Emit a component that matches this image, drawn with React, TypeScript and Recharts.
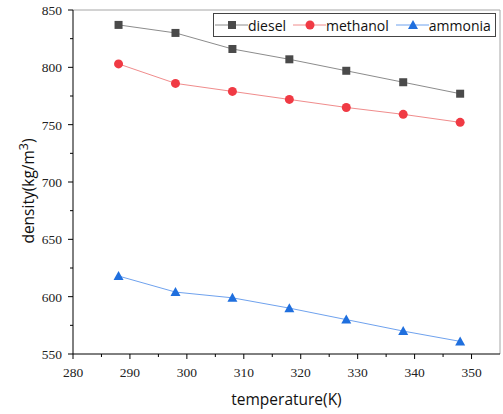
import React from 'react'
import { LineChart, Line, XAxis, YAxis, ReferenceLine } from 'recharts'

// temperature (K) and density (kg/m3)
const temperatures = [288, 298, 308, 318, 328, 338, 348]
const diesel = [837, 830, 816, 807, 797, 787, 777]
const methanol = [803, 786, 779, 772, 765, 759, 752]
const ammonia = [618, 604, 599, 590, 580, 570, 561]

const xTicks = [280, 285, 290, 295, 300, 305, 310, 315, 320, 325, 330, 335, 340, 345, 350]
const yTicks = [550, 575, 600, 625, 650, 675, 700, 725, 750, 775, 800, 825, 850]

const data = temperatures.map((t, i) => ({
  t,
  diesel: diesel[i],
  methanol: methanol[i],
  ammonia: ammonia[i],
}))

const series = [
  { key: 'diesel', name: 'diesel', line: '#8c8c8c', mark: '#4a4a4a', shape: 'square' },
  { key: 'methanol', name: 'methanol', line: '#f08c8c', mark: '#f03a44', shape: 'circle' },
  { key: 'ammonia', name: 'ammonia', line: '#6fa2ee', mark: '#1f6fde', shape: 'triangle' },
]

const tickFont = { fontFamily: '"Liberation Serif", serif', fontSize: 13.5, fill: '#222' }
const labelFont = '"Open Sans", sans-serif'

function Marker({ cx, cy, shape, color }: any) {
  if (cx == null || cy == null) return null
  if (shape === 'square') return <rect x={cx - 4} y={cy - 4} width={8} height={8} fill={color} />
  if (shape === 'circle') return <circle cx={cx} cy={cy} r={4.5} fill={color} />
  return <polygon points={`${cx},${cy - 5} ${cx + 5},${cy + 4} ${cx - 5},${cy + 4}`} fill={color} />
}

const XTick = ({ x, y, payload }: any) => {
  const major = payload.value % 10 === 0
  return (
    <g>
      <line x1={x} x2={x} y1={y} y2={y + (major ? 5 : 3)} stroke="#000" />
      {major && (
        <text x={x} y={y + 23} textAnchor="middle" {...tickFont}>
          {payload.value}
        </text>
      )}
    </g>
  )
}

const YTick = ({ x, y, payload }: any) => {
  const major = payload.value % 50 === 0
  return (
    <g>
      <line x1={x} x2={x - (major ? 5 : 3)} y1={y} y2={y} stroke="#000" />
      {major && (
        <text x={x - 11} y={y + 5} textAnchor="end" {...tickFont}>
          {payload.value}
        </text>
      )}
    </g>
  )
}

const YLabel = ({ viewBox }: any) => {
  const cx = viewBox.x + 34
  const cy = viewBox.y + viewBox.height / 2 + 9
  return (
    <text
      x={cx}
      y={cy}
      transform={`rotate(-90, ${cx}, ${cy})`}
      textAnchor="middle"
      fontFamily={labelFont}
      fontSize={15.5}
      fill="#111"
    >
      density(kg/m<tspan dy={-6} fontSize={12.5}>3</tspan>
      <tspan dy={6}>)</tspan>
    </text>
  )
}

const XLabel = ({ viewBox }: any) => (
  <text
    x={viewBox.x + viewBox.width / 2}
    y={viewBox.y + 51}
    textAnchor="middle"
    fontFamily={labelFont}
    fontSize={15.5}
    fill="#111"
  >
    temperature(K)
  </text>
)

function LegendBox() {
  return (
    <div
      style={{
        position: 'absolute',
        left: 213,
        top: 13,
        width: 281,
        height: 22,
        border: '1px solid #444',
        background: '#fff',
        display: 'flex',
        alignItems: 'center',
        fontFamily: labelFont,
        fontSize: 14,
        color: '#111',
        boxSizing: 'content-box',
      }}
    >
      {series.map((s) => (
        <div key={s.key} style={{ display: 'flex', alignItems: 'center', marginLeft: 1, marginRight: 6 }}>
          <svg width={33} height={14}>
            <line x1={0} x2={33} y1={7} y2={7} stroke={s.line} />
            <Marker cx={17} cy={7} shape={s.shape} color={s.mark} />
          </svg>
          <span>{s.name}</span>
        </div>
      ))}
    </div>
  )
}

export default function App() {
  return (
    <div style={{ position: 'absolute', left: 0, top: 0, width: 503, height: 414, background: '#fff' }}>
      <LineChart width={503} height={414} data={data} margin={{ top: 10, right: 3, bottom: 0, left: 0 }}>
        <ReferenceLine y={850} stroke="#a6a6a6" />
        <ReferenceLine x={355} stroke="#a6a6a6" />
        <XAxis
          dataKey="t"
          type="number"
          domain={[280, 355]}
          ticks={xTicks}
          interval={0}
          height={60}
          tickSize={0}
          tickMargin={0}
          tickLine={false}
          axisLine={{ stroke: '#000' }}
          tick={<XTick />}
          label={<XLabel />}
        />
        <YAxis
          type="number"
          domain={[550, 850]}
          ticks={yTicks}
          interval={0}
          width={73}
          tickSize={0}
          tickMargin={0}
          tickLine={false}
          axisLine={{ stroke: '#000' }}
          tick={<YTick />}
          label={<YLabel />}
        />
        {series.map((s) => (
          <Line
            key={s.key}
            dataKey={s.key}
            name={s.name}
            stroke={s.line}
            strokeWidth={1}
            isAnimationActive={false}
            dot={(p: any) => <Marker key={`${s.key}-${p.index}`} cx={p.cx} cy={p.cy} shape={s.shape} color={s.mark} />}
            activeDot={false}
          />
        ))}
      </LineChart>
      <LegendBox />
    </div>
  )
}
